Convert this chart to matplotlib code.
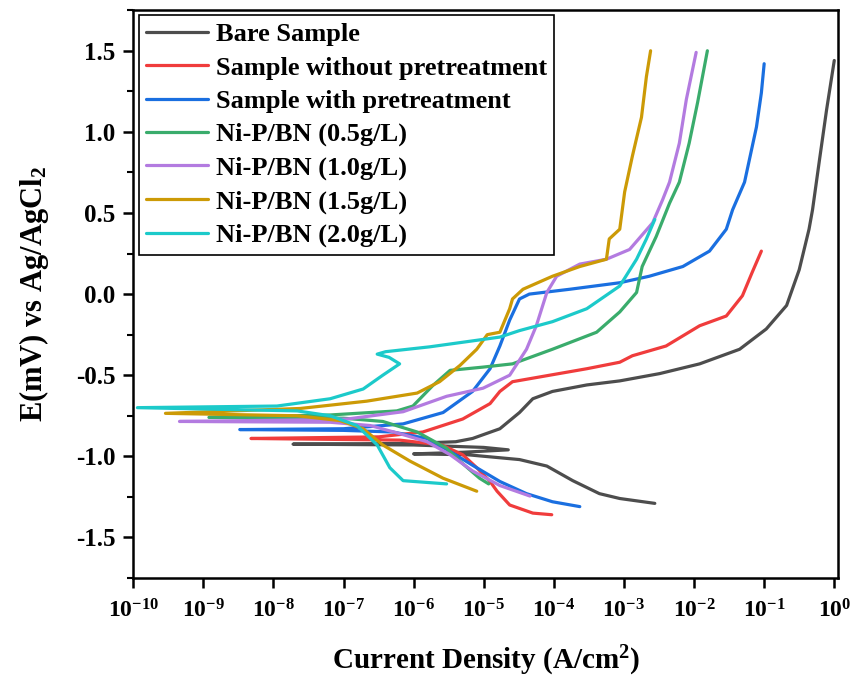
import numpy as np
import matplotlib
matplotlib.use('Agg')
import matplotlib.pyplot as plt
from matplotlib.ticker import NullLocator, MultipleLocator

plt.rcParams['font.family'] = 'Liberation Serif'
plt.rcParams['font.weight'] = 'bold'
plt.rcParams['axes.labelweight'] = 'bold'
plt.rcParams['mathtext.fontset'] = 'custom'
plt.rcParams['mathtext.rm'] = 'Liberation Serif:bold'
plt.rcParams['mathtext.bf'] = 'Liberation Serif:bold'
plt.rcParams['mathtext.it'] = 'Liberation Serif:italic:bold'
plt.rcParams['mathtext.default'] = 'rm'

# log10 of current density (A/cm2) and potential
bare_logi = [-2.56, -3.06, -3.35, -3.73, -4.10, -4.49, -5.24, -6.0, -5.3, -4.65, -5.0, -6.0, -7.72, -6.0,
             -5.4, -5.16, -4.77, -4.49, -4.30, -4.02, -3.53, -3.06, -2.49, -1.92, -1.35, -0.97, -0.68,
             -0.50, -0.36, -0.31, -0.21, -0.11, 0.0]
bare_e = [-1.29, -1.26, -1.23, -1.15, -1.06, -1.02, -0.99, -0.985, -0.975, -0.96, -0.945, -0.93, -0.925, -0.92,
          -0.91, -0.89, -0.83, -0.73, -0.645, -0.60, -0.56, -0.535, -0.49, -0.43, -0.34, -0.215, -0.07,
          0.15, 0.40, 0.52, 0.83, 1.135, 1.44]

red_logi = [-4.03, -4.30, -4.63, -4.81, -4.91, -5.10, -5.3, -5.6, -6.2, -8.32, -6.5, -5.87, -5.30, -4.91,
            -4.77, -4.59, -4.06, -3.53, -3.06, -2.88, -2.40, -1.92, -1.54, -1.31, -1.17, -1.04]
red_e = [-1.36, -1.35, -1.30, -1.215, -1.155, -1.07, -0.99, -0.93, -0.90, -0.89, -0.88, -0.85, -0.77, -0.675,
         -0.60, -0.54, -0.50, -0.46, -0.42, -0.38, -0.32, -0.195, -0.135, -0.01, 0.135, 0.265]

blue_logi = [-3.63, -4.02, -4.39, -4.77, -5.16, -5.48, -5.81, -6.3, -7.0, -8.48, -7.0, -6.15, -5.58, -5.16,
             -4.91, -4.77, -4.63, -4.49, -4.35, -3.77, -3.06, -2.64, -2.16, -1.78, -1.54, -1.45, -1.28,
             -1.21, -1.11, -1.04, -1.0]
blue_e = [-1.31, -1.28, -1.23, -1.155, -1.055, -0.97, -0.89, -0.85, -0.84, -0.835, -0.83, -0.80, -0.73, -0.60,
          -0.46, -0.32, -0.16, -0.03, 0.0, 0.03, 0.07, 0.11, 0.17, 0.265, 0.40, 0.52, 0.69,
          0.83, 1.03, 1.24, 1.42]

g05_logi = [-4.93, -5.06, -5.34, -5.53, -5.95, -6.44, -7.0, -8.92, -7.19, -6.24, -6.01, -5.73, -5.48, -5.01,
            -4.59, -4.02, -3.39, -3.06, -2.82, -2.74, -2.54, -2.35, -2.21, -2.07, -1.95, -1.81]
g05_e = [-1.17, -1.135, -1.03, -0.95, -0.85, -0.785, -0.765, -0.76, -0.745, -0.72, -0.69, -0.565, -0.47, -0.45,
         -0.43, -0.34, -0.235, -0.11, 0.01, 0.17, 0.355, 0.56, 0.69, 0.93, 1.18, 1.50]

g10_logi = [-4.34, -4.77, -5.16, -5.48, -5.81, -6.2, -6.62, -7.19, -9.34, -7.5, -6.95, -6.15, -5.53, -5.01,
            -4.63, -4.39, -4.25, -4.10, -3.96, -3.63, -3.25, -2.92, -2.59, -2.45, -2.35, -2.21, -2.11, -1.97]
g10_e = [-1.245, -1.18, -1.09, -0.99, -0.91, -0.86, -0.81, -0.79, -0.785, -0.775, -0.77, -0.725, -0.63, -0.58,
         -0.50, -0.34, -0.195, 0.01, 0.11, 0.185, 0.215, 0.275, 0.44, 0.58, 0.69, 0.93, 1.20, 1.49]

g15_logi = [-5.10, -5.58, -6.05, -6.44, -6.72, -7.05, -7.66, -9.54, -7.62, -6.67, -5.95, -5.63, -5.34, -5.10,
            -4.95, -4.77, -4.63, -4.59, -4.44, -4.02, -3.63, -3.25, -3.21, -3.06, -2.99, -2.88, -2.75,
            -2.68, -2.62]
g15_e = [-1.215, -1.135, -1.03, -0.93, -0.83, -0.78, -0.75, -0.735, -0.705, -0.66, -0.61, -0.54, -0.44, -0.34,
         -0.25, -0.235, -0.09, -0.03, 0.03, 0.11, 0.17, 0.215, 0.34, 0.40, 0.63, 0.85, 1.09,
         1.34, 1.50]

g20_logi = [-5.53, -6.15, -6.34, -6.52, -6.81, -7.19, -7.66, -9.94, -7.95, -7.19, -6.72, -6.44, -6.20, -6.35,
            -6.52, -6.4, -5.77, -4.77, -4.49, -4.02, -3.53, -3.06, -2.82, -2.68, -2.56]
g20_e = [-1.17, -1.15, -1.07, -0.93, -0.81, -0.75, -0.72, -0.70, -0.69, -0.645, -0.585, -0.50, -0.43, -0.39,
         -0.37, -0.355, -0.325, -0.265, -0.225, -0.17, -0.09, 0.05, 0.215, 0.34, 0.46]

series = [
    (bare_logi, bare_e, '#4d4d4d', 'Bare Sample'),
    (red_logi, red_e, '#f03c3c', 'Sample without pretreatment'),
    (blue_logi, blue_e, '#1a6fe0', 'Sample with pretreatment'),
    (g05_logi, g05_e, '#3aac6c', 'Ni-P/BN (0.5g/L)'),
    (g10_logi, g10_e, '#b37be0', 'Ni-P/BN (1.0g/L)'),
    (g15_logi, g15_e, '#cc9a06', 'Ni-P/BN (1.5g/L)'),
    (g20_logi, g20_e, '#1ccaca', 'Ni-P/BN (2.0g/L)'),
]

fig = plt.figure(figsize=(8.54, 6.8), dpi=100)
ax = fig.add_axes([0.156, 0.15, 0.825, 0.835])

for logi, e, c, lab in series:
    ax.plot(10.0 ** np.array(logi), e, color=c, lw=2.3, label=lab, solid_capstyle='round')

ax.set_xscale('log')
ax.set_xlim(1e-10, 10 ** 0.05)
ax.set_ylim(-1.75, 1.75)
xt = 10.0 ** np.arange(-10, 1)
ax.set_xticks(xt)
ax.set_xticklabels([r'$10^{%d}$' % k for k in range(-10, 1)])
ax.xaxis.set_minor_locator(NullLocator())
ax.yaxis.set_major_locator(MultipleLocator(0.5))
ax.yaxis.set_minor_locator(MultipleLocator(0.25))
ax.yaxis.set_major_formatter(plt.FuncFormatter(lambda v, p: '%.1f' % v))

for s in ax.spines.values():
    s.set_linewidth(1.8)
ax.tick_params(which='major', length=7, width=1.8, pad=6)
ax.tick_params(axis='y', labelsize=18)
ax.tick_params(axis='x', labelsize=17, pad=8)
ax.tick_params(which='minor', length=4, width=1.5)

ax.set_xlabel('Current Density (A/cm$^2$)', fontsize=21, fontweight='bold', labelpad=16)
ax.set_ylabel('E(mV) vs Ag/AgCl$_2$', fontsize=22, fontweight='bold', labelpad=18)

leg = ax.legend(loc='upper left', fontsize=19, frameon=True, fancybox=False, edgecolor='black',
                framealpha=1, handlelength=2.35, handletextpad=0.3, borderaxespad=0.2,
                labelspacing=0.37, borderpad=0.28)
leg.get_frame().set_linewidth(1.2)

fig.savefig('out.png', dpi=100)
